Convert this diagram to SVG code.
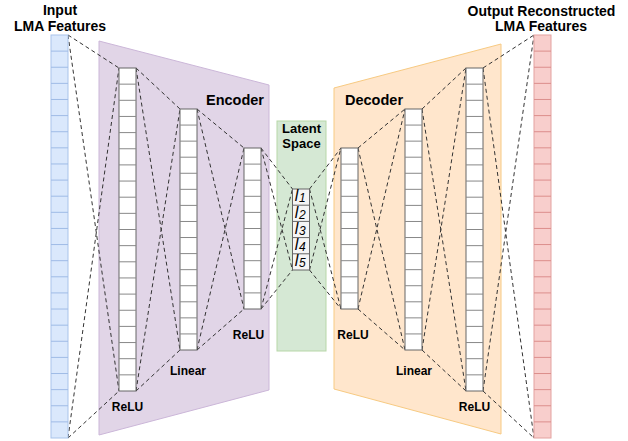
<svg xmlns="http://www.w3.org/2000/svg" xmlns:xlink="http://www.w3.org/1999/xlink" width="628" height="441" viewBox="0 0 628 441">
<style>
text{font-family:"Liberation Sans",Arial,sans-serif;fill:#000}
.b{font-weight:bold}
.t14{font-size:14px}
.t145{font-size:14.5px}
.t13{font-size:13px}
.t12{font-size:12px}
.mid{text-anchor:middle}
.cell{fill:#fff;stroke:#666;stroke-width:1}
.cl{fill:none;stroke:#888;stroke-width:1}
.inc{fill:#dae8fc;stroke:#a9c4eb;stroke-width:1}
.inl{fill:none;stroke:#9fbbe6;stroke-width:1}
.outc{fill:#f8cecc;stroke:#e3a2a0;stroke-width:1}
.outl{fill:none;stroke:#dc8e8c;stroke-width:1}
.lat{fill:#f5f5f5;stroke:#666;stroke-width:1}
.conn{fill:none;stroke:#333;stroke-width:1;stroke-dasharray:4 3}
.lt{font-style:italic;font-size:16px}
.sub{font-size:12px}
</style>
<defs>
<path id="l25" d="M0 16.12h17M0 32.24h17M0 48.36h17M0 64.48h17M0 80.6h17M0 96.72h17M0 112.84h17M0 128.96h17M0 145.08h17M0 161.2h17M0 177.32h17M0 193.44h17M0 209.56h17M0 225.68h17M0 241.8h17M0 257.92h17M0 274.04h17M0 290.16h17M0 306.28h17M0 322.4h17M0 338.52h17M0 354.64h17M0 370.76h17M0 386.88h17"/>
<path id="l20" d="M0 16.15h17M0 32.3h17M0 48.45h17M0 64.6h17M0 80.75h17M0 96.9h17M0 113.05h17M0 129.2h17M0 145.35h17M0 161.5h17M0 177.65h17M0 193.8h17M0 209.95h17M0 226.1h17M0 242.25h17M0 258.4h17M0 274.55h17M0 290.7h17M0 306.85h17"/>
<path id="l15" d="M0 16.07h17M0 32.13h17M0 48.2h17M0 64.27h17M0 80.33h17M0 96.4h17M0 112.47h17M0 128.53h17M0 144.6h17M0 160.67h17M0 176.73h17M0 192.8h17M0 208.87h17M0 224.93h17"/>
<path id="l10" d="M0 16.1h17M0 32.2h17M0 48.3h17M0 64.4h17M0 80.5h17M0 96.6h17M0 112.7h17M0 128.8h17M0 144.9h17"/>
<path id="l5" d="M0 16.2h17M0 32.4h17M0 48.6h17M0 64.8h17"/>
</defs>

<g id="encoder">
<polygon points="99,41 269,85 269,390 99,435" fill="#e1d5e7" stroke="#cbb6d8" stroke-width="1"/>
<text class="b t145" x="206" y="105">Encoder</text>
</g>
<g id="decoder">
<polygon points="334,88 501,44 501,434 334,389" fill="#ffe6cc" stroke="#f7ca82" stroke-width="1"/>
<text class="b t145" x="345" y="105">Decoder</text>
</g>
<g id="latent-space">
<rect x="277" y="121" width="49" height="230" fill="#d5e8d4" stroke="#b7d7a8" stroke-width="1"/>
<text class="b t13 mid" x="301.5" y="132.5">Latent</text>
<text class="b t13 mid" x="301.5" y="147.5">Space</text>
</g>

<g id="connectors">
<path class="conn" d="M68 35L119 68M68 35L119 391M68 438L119 68M68 438L119 391"/>
<path class="conn" d="M136 68L180 109M136 68L180 350M136 391L180 109M136 391L180 350"/>
<path class="conn" d="M197 109L244 148M197 109L244 309M197 350L244 148M197 350L244 309"/>
<path class="conn" d="M261 148L292.5 189M261 148L292.5 270M261 309L292.5 189M261 309L292.5 270"/>
<path class="conn" d="M309.5 189L341 148M309.5 189L341 309M309.5 270L341 148M309.5 270L341 309"/>
<path class="conn" d="M358 148L405 109M358 148L405 350M358 309L405 109M358 309L405 350"/>
<path class="conn" d="M422 109L466 68M422 109L466 391M422 350L466 68M422 350L466 391"/>
<path class="conn" d="M483 68L534 35M483 68L534 438M483 391L534 35M483 391L534 438"/>
</g>

<g id="input">
<rect class="inc" x="51" y="35" width="17" height="403"/>
<use xlink:href="#l25" x="51" y="35" class="inl"/>
<text class="b t14 mid" x="60" y="15">Input</text>
<text class="b t14 mid" x="60" y="31">LMA Features</text>
</g>

<g id="enc-relu-1">
<rect class="cell" x="119" y="68" width="17" height="323"/>
<use xlink:href="#l20" x="119" y="68" class="cl"/>
<text class="b t12 mid" x="127.5" y="411">ReLU</text>
</g>
<g id="enc-linear">
<rect class="cell" x="180" y="109" width="17" height="241"/>
<use xlink:href="#l15" x="180" y="109" class="cl"/>
<text class="b t12 mid" x="188" y="375">Linear</text>
</g>
<g id="enc-relu-2">
<rect class="cell" x="244" y="148" width="17" height="161"/>
<use xlink:href="#l10" x="244" y="148" class="cl"/>
<text class="b t12 mid" x="248.5" y="338.5">ReLU</text>
</g>

<g id="latent">
<rect class="lat" x="292.5" y="189" width="17" height="81"/>
<use xlink:href="#l5" x="292.5" y="189" class="cl" style="stroke:#666"/>
<text class="lt" x="294.8" y="201.3">l<tspan class="sub" dx="0.6" dy="1">1</tspan></text>
<text class="lt" x="294.8" y="217.5">l<tspan class="sub" dx="0.6" dy="1">2</tspan></text>
<text class="lt" x="294.8" y="233.7">l<tspan class="sub" dx="0.6" dy="1">3</tspan></text>
<text class="lt" x="294.8" y="249.9">l<tspan class="sub" dx="0.6" dy="1">4</tspan></text>
<text class="lt" x="294.8" y="266.1">l<tspan class="sub" dx="0.6" dy="1">5</tspan></text>
</g>

<g id="dec-relu-1">
<rect class="cell" x="341" y="148" width="17" height="161"/>
<use xlink:href="#l10" x="341" y="148" class="cl"/>
<text class="b t12 mid" x="353" y="338.5">ReLU</text>
</g>
<g id="dec-linear">
<rect class="cell" x="405" y="109" width="17" height="241"/>
<use xlink:href="#l15" x="405" y="109" class="cl"/>
<text class="b t12 mid" x="414" y="375">Linear</text>
</g>
<g id="dec-relu-2">
<rect class="cell" x="466" y="68" width="17" height="323"/>
<use xlink:href="#l20" x="466" y="68" class="cl"/>
<text class="b t12 mid" x="474.5" y="411">ReLU</text>
</g>

<g id="output">
<rect class="outc" x="534" y="35" width="17" height="403"/>
<use xlink:href="#l25" x="534" y="35" class="outl"/>
<text class="b t14 mid" x="541.5" y="15.5">Output Reconstructed</text>
<text class="b t14 mid" x="541" y="31">LMA Features</text>
</g>
</svg>
